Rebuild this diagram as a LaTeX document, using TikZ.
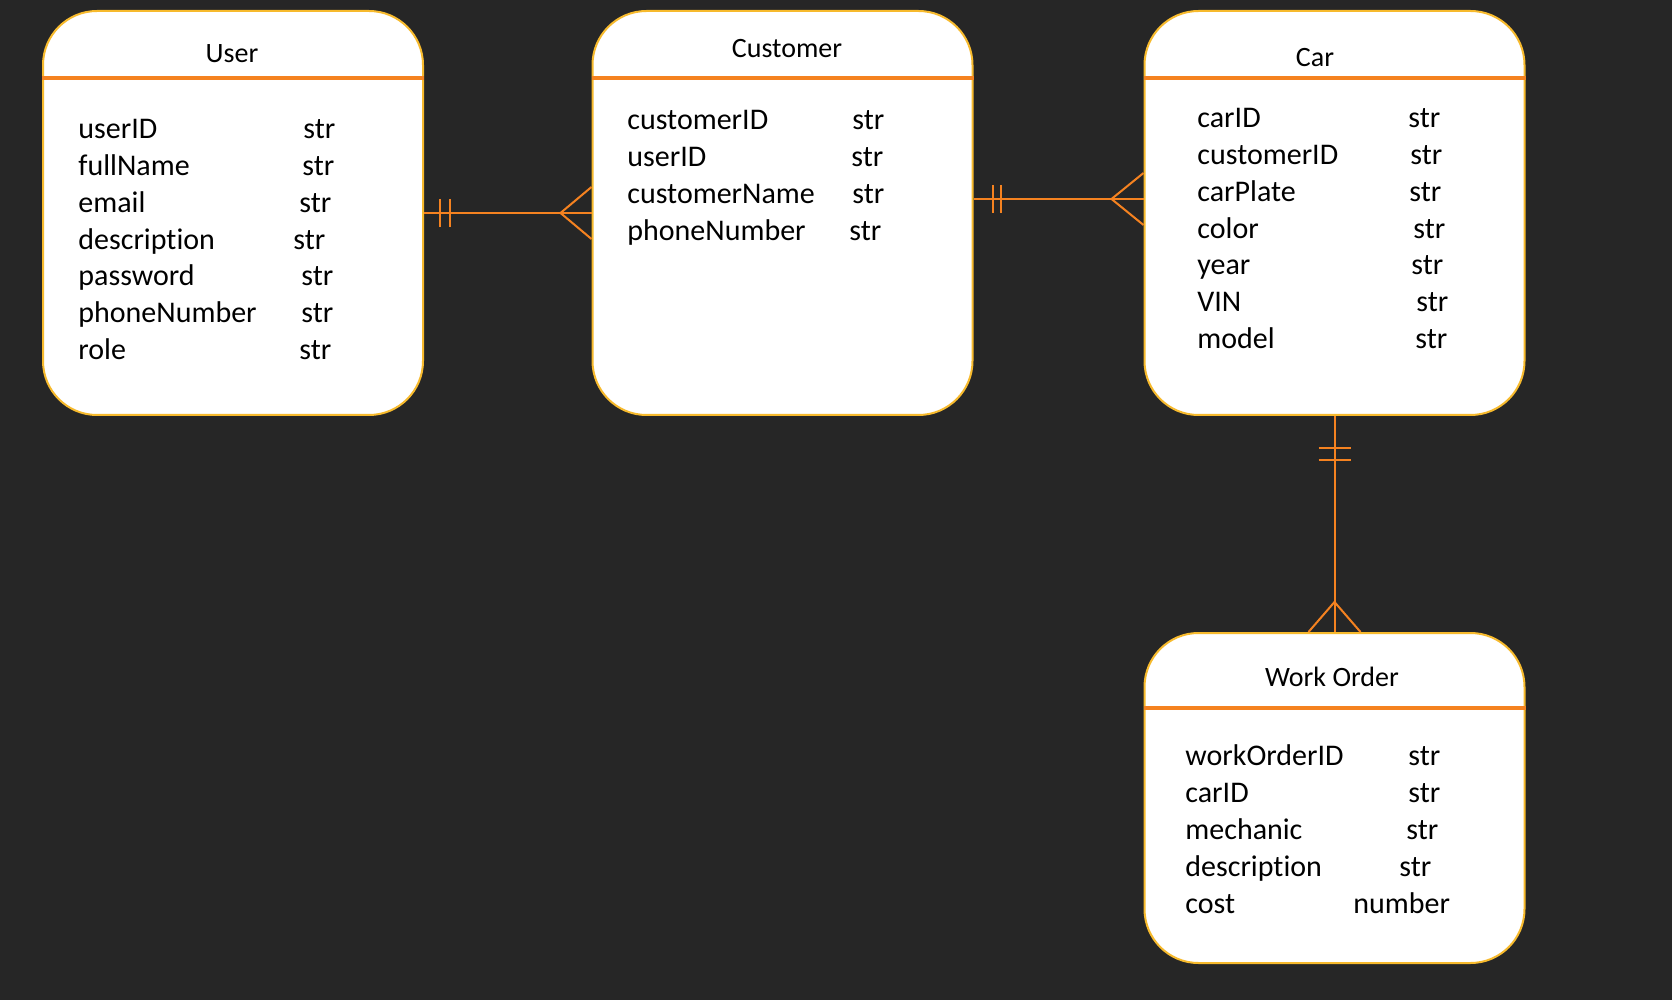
\documentclass[tikz,border=0pt]{standalone}
\usepackage{fontspec}
\setmainfont{Carlito}[Ligatures=NoCommon]
\definecolor{bg}{RGB}{38,38,38}
\definecolor{boxedge}{RGB}{247,186,45}
\definecolor{relorange}{RGB}{245,130,32}

\begin{document}
\begin{tikzpicture}[x=0.5pt,y=-0.5pt,
  entity/.style={draw=boxedge, line width=1pt, fill=white, rounded corners=27pt,
    minimum width=190pt, minimum height=202pt, inner sep=0pt},
  header/.style={draw=relorange, line width=1.6pt},
  title/.style={font=\fontsize{14}{16}\selectfont, text height=12pt, text depth=2pt, inner sep=0pt},
  field/.style={anchor=west, font=\fontsize{15}{18}\selectfont, text height=12pt, text depth=3pt, inner sep=0pt},
  rel/.style={draw=relorange, line width=1pt}]
\fill[bg] (0,0) rectangle (1672,1000);
\useasboundingbox (0,0) rectangle (1672,1000);

% entities
\node[entity] (user) at (233,213) {};
\node[entity] (customer) at (782.5,213) {};
\node[entity] (car) at (1334.5,213) {};
\node[entity, minimum height=165pt] (wo) at (1334.5,798) {};

\draw[header] (user.west |- 0,78) -- (user.east |- 0,78);
\draw[header] (customer.west |- 0,78) -- (customer.east |- 0,78);
\draw[header] (car.west |- 0,78) -- (car.east |- 0,78);
\draw[header] (wo.west |- 0,708) -- (wo.east |- 0,708);

\node[title] (user-title) at (232,53) {User};
\node[title] (customer-title) at (787,48) {Customer};
\node[title] (car-title) at (1315,57) {Car};
\node[title] (wo-title) at (1332,676) {Work Order};

% fields
\foreach \f/\t/\tx [count=\i] in {userID/str/303, fullName/str/302, email/str/299,
    description/str/293, password/str/301, phoneNumber/str/301, role/str/299}{
  \node[field] (user-f\i) at (78,{130+36.7*(\i-1)}) {\f};
  \node[field] (user-t\i) at (\tx,{130+36.7*(\i-1)}) {\t};
}
\foreach \f/\t/\tx [count=\i] in {customerID/str/852, userID/str/851,
    customerName/str/852, phoneNumber/str/849}{
  \node[field] (customer-f\i) at (627,{121+37*(\i-1)}) {\f};
  \node[field] (customer-t\i) at (\tx,{121+37*(\i-1)}) {\t};
}
\foreach \f/\t/\tx [count=\i] in {carID/str/1408, customerID/str/1410, carPlate/str/1409,
    color/str/1413, year/str/1411, VIN/str/1416, model/str/1415}{
  \node[field] (car-f\i) at (1197,{119+36.7*(\i-1)}) {\f};
  \node[field] (car-t\i) at (\tx,{119+36.7*(\i-1)}) {\t};
}
\foreach \f/\t/\tx [count=\i] in {workOrderID/str/1408, carID/str/1408, mechanic/str/1406,
    description/str/1399, cost/number/1353}{
  \node[field] (wo-f\i) at (1185,{756+37*(\i-1)}) {\f};
  \node[field] (wo-t\i) at (\tx,{756+37*(\i-1)}) {\t};
}

% User -- Customer
\draw[rel] (user.east) -- (customer.west);
\draw[rel] ([xshift=8pt,yshift=7pt]user.east) -- ([xshift=8pt,yshift=-7pt]user.east);
\draw[rel] ([xshift=13pt,yshift=7pt]user.east) -- ([xshift=13pt,yshift=-7pt]user.east);
\draw[rel] ([yshift=13pt]customer.west) -- ([xshift=-15.5pt]customer.west) -- ([yshift=-13pt]customer.west);

% Customer -- Car
\draw[rel] ([yshift=7pt]customer.east) -- ([yshift=7pt]car.west);
\draw[rel] ([xshift=9.5pt,yshift=14pt]customer.east) -- ([xshift=9.5pt]customer.east);
\draw[rel] ([xshift=13.5pt,yshift=14pt]customer.east) -- ([xshift=13.5pt]customer.east);
\draw[rel] ([yshift=20pt]car.west) -- ([xshift=-16pt,yshift=7pt]car.west) -- ([yshift=-6pt]car.west);

% Car -- Work Order
\draw[rel] (car.south) -- (wo.north);
\draw[rel] ([xshift=-8pt,yshift=-16pt]car.south) -- ([xshift=8pt,yshift=-16pt]car.south);
\draw[rel] ([xshift=-8pt,yshift=-22pt]car.south) -- ([xshift=8pt,yshift=-22pt]car.south);
\draw[rel] ([xshift=-13pt]wo.north) -- ([yshift=15pt]wo.north) -- ([xshift=13pt]wo.north);
\end{tikzpicture}
\end{document}
